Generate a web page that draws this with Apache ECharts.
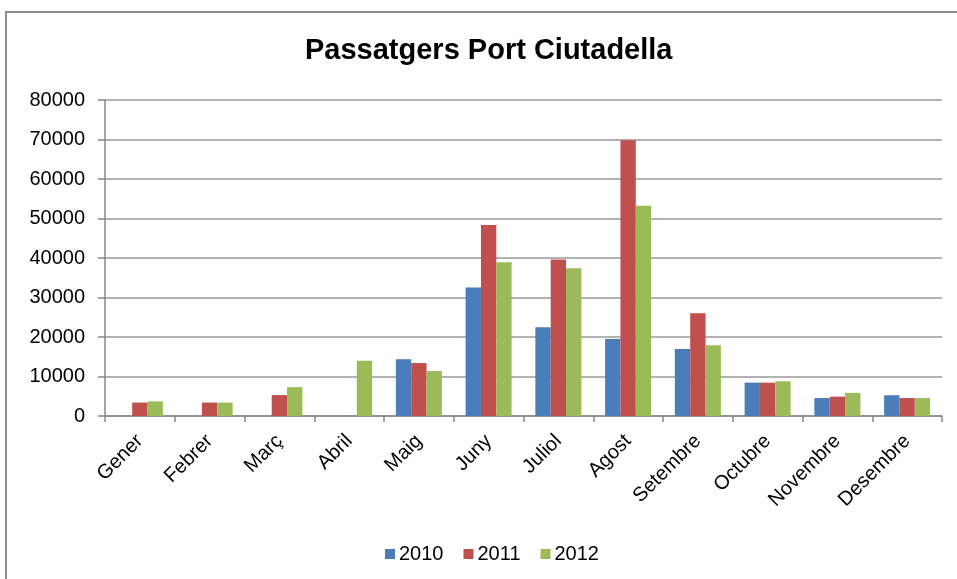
<!DOCTYPE html>
<html>
<head>
<meta charset="utf-8">
<script src="https://cdn.jsdelivr.net/npm/echarts@6/dist/echarts.min.js"></script>
<style>
  html, body { margin: 0; padding: 0; background: #fff; }
  #chart { width: 957px; height: 579px; }
</style>
</head>
<body>
<div id="chart"></div>
<script>
// mesos i passatgers per any
const months = ['Gener', 'Febrer', 'Març', 'Abril', 'Maig', 'Juny', 'Juliol', 'Agost', 'Setembre', 'Octubre', 'Novembre', 'Desembre'];
const y2010 = [null, null, null, null, 14350, 32550, 22450, 19500, 16950, 8450, 4550, 5250];
const y2011 = [3400, 3400, 5300, null, 13400, 48350, 39600, 69800, 26000, 8450, 4900, 4550];
const y2012 = [3700, 3400, 7300, 14000, 11400, 38900, 37400, 53250, 17900, 8800, 5850, 4550];
const yTicks = { min: 0, max: 80000, interval: 10000 };

const colors = ['#4a7ebb', '#c0504d', '#9bbb59'];
const fontFam = '"Liberation Sans", Arial, sans-serif';

const chart = echarts.init(document.getElementById('chart'));

const option = {
  animation: false,
  color: colors,
  title: {
    text: 'Passatgers Port Ciutadella',
    left: 300,
    top: 31,
    textStyle: { fontFamily: fontFam, fontSize: 29, fontWeight: 'bold', color: '#000' }
  },
  legend: {
    top: 539,
    left: 380,
    itemWidth: 10,
    itemHeight: 10,
    itemGap: 20,
    icon: 'rect',
    textStyle: { fontFamily: fontFam, fontSize: 20, color: '#000', padding: [0, 0, 0, -1] },
    data: ['2010', '2011', '2012']
  },
  grid: { left: 105, right: 15, top: 100, bottom: 163 },
  xAxis: {
    type: 'category',
    data: months,
    axisLine: { lineStyle: { color: '#888', width: 1.5 } },
    axisTick: { show: true, length: 6, lineStyle: { color: '#888', width: 1.5 } },
    axisLabel: {
      rotate: 45,
      interval: 0,
      margin: 22,
      fontFamily: fontFam,
      fontSize: 20,
      color: '#000'
    }
  },
  yAxis: {
    type: 'value',
    min: yTicks.min,
    max: yTicks.max,
    interval: yTicks.interval,
    axisLine: { show: true, lineStyle: { color: '#888', width: 1.5 } },
    axisTick: { show: true, length: 7, lineStyle: { color: '#888', width: 1.5 } },
    axisLabel: {
      margin: 20,
      fontFamily: fontFam,
      fontSize: 20,
      color: '#000',
      formatter: v => String(v)
    },
    splitLine: { lineStyle: { color: '#999', width: 1.5 } }
  },
  graphic: [{
    type: 'rect',
    shape: { x: 6, y: 12, width: 980, height: 600 },
    style: { fill: null, stroke: '#8c8c8c', lineWidth: 2 },
    silent: true
  }],
  series: [
    { name: '2010', type: 'bar', data: y2010, barGap: 0, barCategoryGap: '34%' },
    { name: '2011', type: 'bar', data: y2011, barGap: 0, barCategoryGap: '34%' },
    { name: '2012', type: 'bar', data: y2012, barGap: 0, barCategoryGap: '34%' }
  ]
};

chart.setOption(option);
</script>
</body>
</html>
